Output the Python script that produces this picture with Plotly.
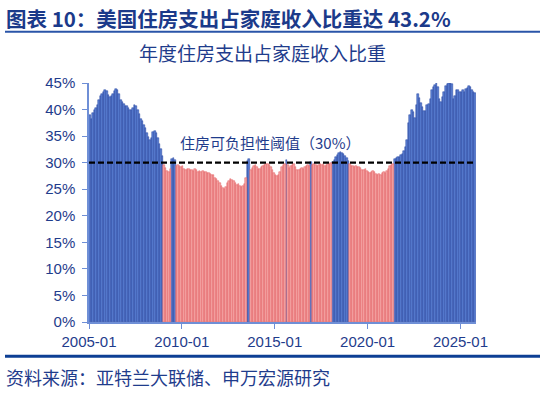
import plotly.graph_objects as go

# Monthly ratio (%) of housing expenditure to household income, 2005-01 .. 2025-10
v2005 = [38.9, 38.2, 39.4, 39.9, 40.3, 40.9, 41.8, 42.5, 42.9, 43.4, 43.7, 43.5]
v2006 = [42.8, 42.3, 42.5, 43.0, 43.5, 43.9, 43.7, 43.0, 41.8, 41.4, 41.0, 40.7]
v2007 = [40.7, 40.2, 39.9, 39.9, 40.3, 40.9, 40.6, 39.9, 39.2, 38.3, 37.8, 37.1]
v2008 = [36.6, 35.6, 34.9, 34.3, 34.6, 35.8, 36.0, 35.5, 34.6, 33.5, 32.6, 31.2]
v2009 = [29.6, 29.0, 28.5, 28.2, 28.8, 30.6, 30.9, 30.5, 29.4, 29.6, 29.4, 29.2]
v2010 = [29.3, 28.9, 28.7, 28.8, 28.9, 28.6, 28.7, 28.5, 28.9, 28.6, 28.3, 28.4]
v2011 = [28.3, 28.4, 28.2, 28.3, 28.0, 28.1, 27.9, 27.7, 27.6, 27.2, 26.9, 26.6]
v2012 = [26.2, 25.7, 25.3, 25.1, 25.4, 26.2, 26.6, 26.9, 26.8, 26.5, 26.1, 25.8]
v2013 = [25.9, 25.6, 25.5, 25.6, 25.9, 27.1, 30.4, 30.6, 28.6, 29.0, 29.3, 29.5]
v2014 = [29.1, 28.8, 28.9, 29.2, 29.4, 29.5, 29.7, 29.8, 29.5, 29.1, 28.6, 28.1]
v2015 = [27.7, 27.4, 27.6, 28.3, 29.1, 29.6, 29.8, 30.5, 29.5, 29.0, 29.3, 29.6]
v2016 = [29.7, 29.2, 28.7, 28.6, 28.8, 29.0, 28.9, 29.2, 29.4, 29.5, 29.3, 30.2]
v2017 = [29.6, 29.7, 29.5, 29.3, 29.6, 29.8, 29.5, 29.7, 29.4, 29.6, 29.8, 29.7]
v2018 = [29.9, 30.2, 30.5, 31.1, 31.5, 31.8, 32.0, 31.9, 31.6, 31.2, 30.8, 30.3]
v2019 = [29.7, 29.4, 29.3, 29.2, 29.4, 29.2, 29.1, 29.0, 28.7, 28.6, 28.8, 28.5]
v2020 = [28.2, 28.0, 28.3, 28.5, 28.2, 27.9, 27.7, 27.8, 27.7, 28.0, 28.3, 28.1]
v2021 = [28.4, 28.8, 29.3, 29.6, 29.8, 30.6, 30.8, 31.0, 31.1, 31.4, 31.6, 32.2]
v2022 = [33.0, 34.3, 37.5, 38.9, 40.0, 39.5, 38.5, 40.8, 43.0, 42.2, 41.3, 40.5]
v2023 = [39.7, 39.7, 40.8, 41.1, 42.0, 43.6, 44.3, 44.7, 45.0, 44.3, 42.0, 41.5]
v2024 = [42.3, 43.3, 44.5, 44.9, 45.0, 45.0, 44.8, 42.0, 42.5, 43.6, 43.7, 43.3]
v2025 = [43.3, 43.6, 43.3, 43.8, 44.1, 44.5, 44.3, 43.6, 43.3, 43.2]

yearly = [v2005, v2006, v2007, v2008, v2009, v2010, v2011, v2012, v2013, v2014,
          v2015, v2016, v2017, v2018, v2019, v2020, v2021, v2022, v2023, v2024, v2025]
first_year = 2005
threshold = 30.0
x_tick_labels = ["2005-01", "2010-01", "2015-01", "2020-01", "2025-01"]
y_ticks = [0, 5, 10, 15, 20, 25, 30, 35, 40, 45]

months, values = [], []
for yi, vals in enumerate(yearly):
    for mi, v in enumerate(vals):
        months.append(f"{first_year + yi}-{mi + 1:02d}")
        values.append(v)
n = len(values)
idx = [i + 0.5 for i in range(n)]

NAVY = "#1f3c8c"
CN = "Noto Sans CJK SC"
LAT = "Liberation Sans"

above_x = [idx[i] for i in range(n) if values[i] >= threshold]
above_y = [values[i] for i in range(n) if values[i] >= threshold]
below_x = [idx[i] for i in range(n) if values[i] < threshold]
below_y = [values[i] for i in range(n) if values[i] < threshold]

fig = go.Figure()
fig.add_trace(go.Bar(x=above_x, y=above_y, width=1.0,
                     marker=dict(color="#5b7fd2", line=dict(color="#23429e", width=0.5)),
                     showlegend=False))
fig.add_trace(go.Bar(x=below_x, y=below_y, width=1.0,
                     marker=dict(color="#f5a7a7", line=dict(color="#e2585c", width=0.5)),
                     showlegend=False))

tickvals = [months.index(t) for t in x_tick_labels]

L, R, T, B = 89, 476, 82.5, 322.5
W, H = 545, 395
def px(xp):
    return (xp - L) / (R - L)
def py(yp):
    return (B - yp) / (B - T)

fig.update_layout(
    width=W, height=H,
    margin=dict(l=L, r=W - R, t=T, b=H - B),
    paper_bgcolor="white", plot_bgcolor="white",
    bargap=0, barmode="overlay",
    font=dict(family=LAT, color=NAVY, size=15),
    xaxis=dict(range=[0, n], tickvals=tickvals, ticktext=x_tick_labels,
               showgrid=False, zeroline=False, showline=True, linecolor="#6f8fd6",
               linewidth=1.5, ticks="outside", ticklen=5, tickcolor="#6f8fd6",
               tickfont=dict(family=LAT, size=15, color=NAVY)),
    yaxis=dict(range=[0, 45], tickvals=y_ticks, ticktext=[f"{t}%" for t in y_ticks],
               showgrid=False, zeroline=False, showline=True, linecolor="#6f8fd6",
               linewidth=1.5, ticks="outside", ticklen=5, tickcolor="#6f8fd6",
               ticklabelstandoff=4,
               tickfont=dict(family=LAT, size=15, color=NAVY)),
)

# threshold dashed line
fig.add_shape(type="line", xref="paper", yref="y", x0=0, x1=1, y0=threshold, y1=threshold,
              line=dict(color="black", width=2.2, dash="6px,3px"), layer="above")

# annotations
fig.add_annotation(text="住房可负担性阈值（30%）", xref="paper", yref="paper",
                   x=px(178), y=py(142), xanchor="left", yanchor="middle", showarrow=False,
                   font=dict(family=CN, size=15, color=NAVY))
fig.add_annotation(text="年度住房支出占家庭收入比重", xref="paper", yref="paper",
                   x=px(262.5), y=py(52), xanchor="center", yanchor="middle", showarrow=False,
                   font=dict(family=CN, size=19, color=NAVY))
fig.add_annotation(text="<b>图表 10：美国住房支出占家庭收入比重达 43.2%</b>", xref="paper", yref="paper",
                   x=px(4), y=py(17), xanchor="left", yanchor="middle", showarrow=False,
                   font=dict(family=CN, size=20.5, color="#1b3a8a"))
fig.add_annotation(text="资料来源：亚特兰大联储、申万宏源研究", xref="paper", yref="paper",
                   x=px(4), y=py(378), xanchor="left", yanchor="middle", showarrow=False,
                   font=dict(family=CN, size=18, color=NAVY))

# header / footer rules
fig.add_shape(type="line", xref="paper", yref="paper", x0=px(5), x1=px(540), y0=py(31), y1=py(31),
              line=dict(color="#2a55a8", width=2))
fig.add_shape(type="line", xref="paper", yref="paper", x0=px(5), x1=px(540), y0=py(357), y1=py(357),
              line=dict(color="#0d3f94", width=3))

fig.write_html("out.html", config={"displayModeBar": False},
               post_script="document.body.style.margin='0px';document.body.style.overflow='hidden';")
